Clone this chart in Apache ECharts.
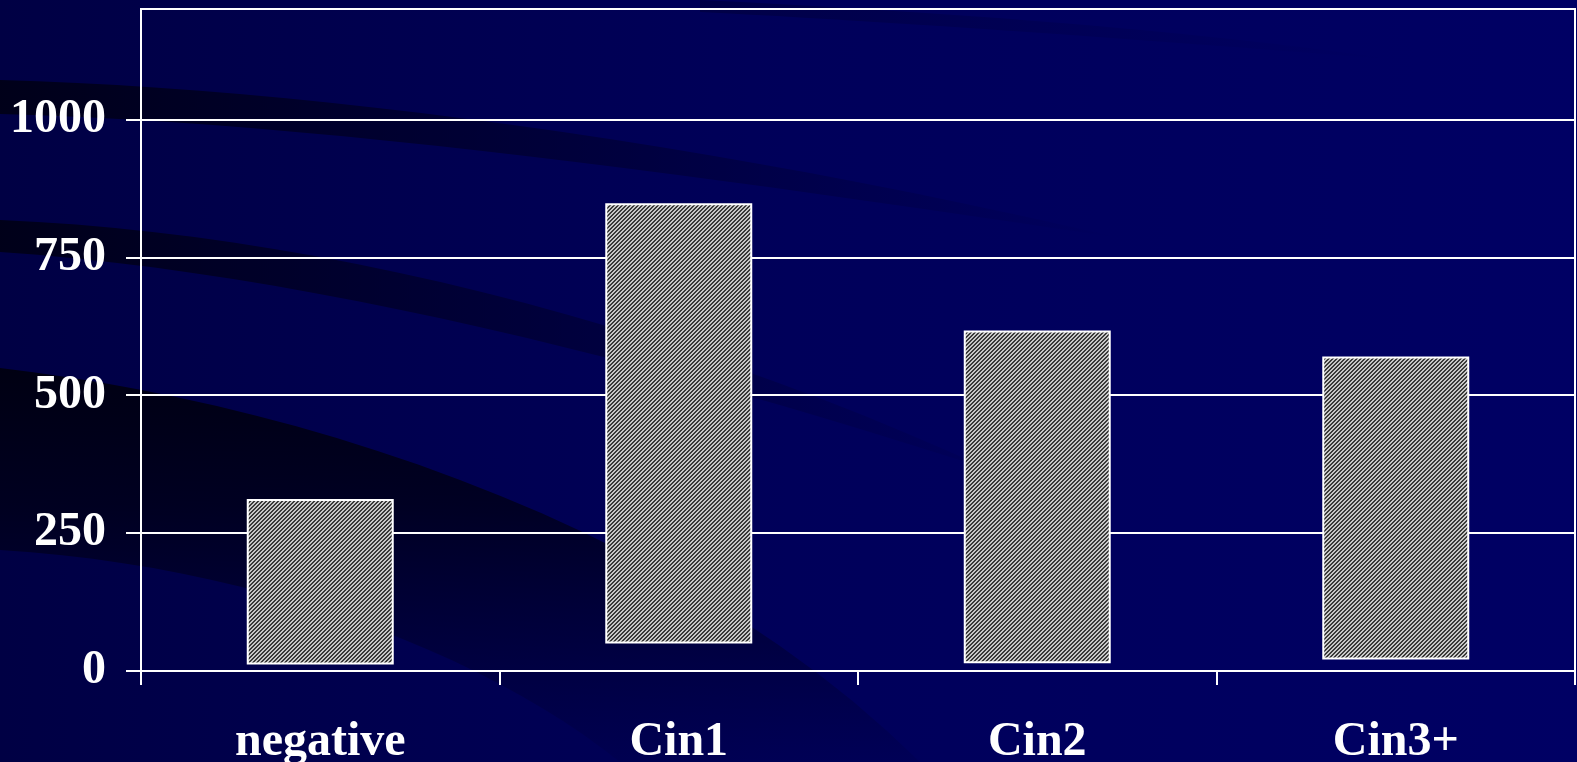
<!DOCTYPE html>
<html>
<head>
<meta charset="utf-8">
<script src="https://cdn.jsdelivr.net/npm/echarts@6/dist/echarts.min.js"></script>
<style>
  html, body { margin: 0; padding: 0; background: #000050; }
  #chart { width: 1577px; height: 762px; }
</style>
</head>
<body>
<div id="chart"></div>
<script>
// Range of each group: bottom and top of its bar
const categories = ['negative', 'Cin1', 'Cin2', 'Cin3+'];
const lowValues = [12, 50, 14, 21];
const highValues = [312, 848, 617, 570];
const yTickValues = [0, 250, 500, 750, 1000];

// Fine diagonal hatch used to fill the bars
function hatchPattern() {
  const size = 4;
  const c = document.createElement('canvas');
  c.width = size; c.height = size;
  const ctx = c.getContext('2d');
  const img = ctx.createImageData(size, size);
  for (let y = 0; y < size; y++) {
    for (let x = 0; x < size; x++) {
      const light = ((x + y) % size) < 2;
      const v = light ? 200 : 58;
      const i = (y * size + x) * 4;
      img.data[i] = v; img.data[i + 1] = v; img.data[i + 2] = v; img.data[i + 3] = 255;
    }
  }
  ctx.putImageData(img, 0, 0);
  return c;
}

const serifFont = '"Liberation Serif", "Times New Roman", "DejaVu Serif", serif';

// Sample a chain of cubic curves into polygon points
function curvePoints(start, segments) {
  const pts = [start];
  let p0 = start;
  segments.forEach(seg => {
    if (seg.length === 1) { pts.push(seg[0]); p0 = seg[0]; return; }
    const [c1, c2, p3] = seg;
    for (let k = 1; k <= 24; k++) {
      const t = k / 24, u = 1 - t;
      pts.push([
        u * u * u * p0[0] + 3 * u * u * t * c1[0] + 3 * u * t * t * c2[0] + t * t * t * p3[0],
        u * u * u * p0[1] + 3 * u * u * t * c1[1] + 3 * u * t * t * c2[1] + t * t * t * p3[1]
      ]);
    }
    p0 = p3;
  });
  return pts;
}

// Dark sweeping bands across the navy backdrop
function band(points, fill) {
  return { type: 'polygon', z: -50, silent: true, shape: { points: points }, style: { fill: fill } };
}
const hGrad = (a0, a1) => new echarts.graphic.LinearGradient(0, 0, 1, 0, [
  { offset: 0, color: 'rgba(0,0,18,' + a0 + ')' },
  { offset: 1, color: 'rgba(0,0,30,' + a1 + ')' }
]);

const backdrop = [
  {
    type: 'rect', z: -100, silent: true,
    shape: { x: 0, y: 0, width: 1577, height: 762 },
    style: {
      fill: new echarts.graphic.LinearGradient(0, 0, 1, 0, [
        { offset: 0, color: '#000044' },
        { offset: 0.5, color: '#00005a' },
        { offset: 1, color: '#000064' }
      ])
    }
  },
  band(curvePoints([0, 80], [
    [[300, 88], [700, 140], [1120, 238]],
    [[720, 178], [320, 122], [0, 114]]
  ]), hGrad(0.85, 0.0)),
  band(curvePoints([0, 220], [
    [[300, 232], [660, 318], [990, 470]],
    [[660, 362], [300, 272], [0, 252]]
  ]), hGrad(0.85, 0.05)),
  band(curvePoints([0, 368], [
    [[260, 398], [660, 505], [920, 762]],
    [[620, 762]],
    [[480, 650], [250, 565], [0, 550]]
  ]), new echarts.graphic.LinearGradient(0, 0, 0, 1, [
    { offset: 0, color: 'rgba(0,0,14,0.92)' },
    { offset: 0.35, color: 'rgba(0,0,20,0.75)' },
    { offset: 1, color: 'rgba(0,0,40,0.1)' }
  ])),
  band(curvePoints([700, 0], [
    [[900, 10], [1150, 25], [1400, 60]],
    [[1150, 40], [900, 22], [700, 12]]
  ]), hGrad(0.25, 0.0))
];

const chart = echarts.init(document.getElementById('chart'));
chart.setOption({
  animation: false,
  backgroundColor: '#000050',
  graphic: { elements: backdrop },
  grid: {
    left: 141, right: 2, top: 9, bottom: 91,
    outerBoundsMode: 'none', containLabel: false,
    show: true, borderColor: '#ffffff', borderWidth: 2, backgroundColor: 'transparent'
  },
  xAxis: {
    type: 'category',
    data: categories,
    boundaryGap: true,
    axisLine: { show: true, lineStyle: { color: '#ffffff', width: 2 } },
    axisTick: { show: true, length: 14, alignWithLabel: false, lineStyle: { color: '#ffffff', width: 2 } },
    axisLabel: {
      color: '#ffffff', fontFamily: serifFont, fontWeight: 'bold', fontSize: 48, margin: 48
    },
    splitLine: { show: false }
  },
  yAxis: {
    type: 'value',
    min: 0, max: 1200, interval: 250,
    axisLine: { show: true, lineStyle: { color: '#ffffff', width: 2 } },
    axisTick: { show: true, length: 15, customValues: yTickValues, lineStyle: { color: '#ffffff', width: 2 } },
    axisLabel: {
      customValues: yTickValues,
      formatter: v => String(v),
      padding: [6, 0, 0, 0],
      color: '#ffffff', fontFamily: serifFont, fontWeight: 'bold', fontSize: 48, margin: 35
    },
    splitLine: { show: true, lineStyle: { color: '#ffffff', width: 2 } }
  },
  series: [
    {
      type: 'bar', stack: 'range', barWidth: '41%', silent: true,
      data: lowValues,
      itemStyle: { color: 'rgba(0,0,0,0)' }
    },
    {
      type: 'bar', stack: 'range', barWidth: '41%',
      data: highValues.map((h, i) => h - lowValues[i]),
      itemStyle: {
        color: { image: hatchPattern(), repeat: 'repeat' },
        borderColor: '#ffffff', borderWidth: 2
      }
    }
  ]
});
</script>
</body>
</html>
